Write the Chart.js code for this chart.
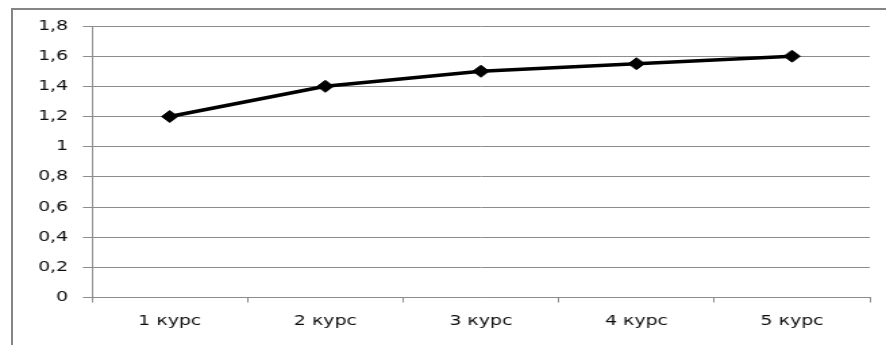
<!DOCTYPE html>
<html>
<head>
<meta charset="utf-8">
<script src="https://cdn.jsdelivr.net/npm/chart.js@4/dist/chart.umd.min.js"></script>
<style>
  html, body { margin: 0; padding: 0; background: #fff; overflow: hidden; }
  body { width: 886px; height: 345px; position: relative; }
  #frame {
    position: absolute; left: 11px; top: 8px; width: 920px; height: 400px;
    border: 2px solid #858585; box-sizing: border-box; pointer-events: none;
  }
  #wrap {
    position: absolute; left: 0; top: 0; width: 656px; height: 345px;
    transform-origin: 0 0; transform: scaleX(1.3506);
  }
  canvas { display: block; }
</style>
</head>
<body>
<div id="wrap"><canvas id="c" width="656" height="345"></canvas></div>
<div id="frame"></div>
<script>
// Course labels and the plotted values
const categories = ['1 курс', '2 курс', '3 курс', '4 курс', '5 курс'];
const values = [1.2, 1.4, 1.5, 1.55, 1.6];
// Value axis range and step
const yMin = 0;
const yMax = 1.8;
const yStep = 0.2;

const gridGrey = '#8c8c8c';
const textColor = '#0d0d0d';
const fontFamily = '"DejaVu Sans", Verdana, sans-serif';

const fmt = v => String(Math.round(v * 10) / 10).replace('.', ',');

new Chart(document.getElementById('c'), {
  type: 'line',
  data: {
    labels: categories,
    datasets: [{
      data: values,
      borderColor: '#000',
      borderWidth: 3.5,
      backgroundColor: '#000',
      pointStyle: 'rectRot',
      pointRadius: 6,
      pointBorderWidth: 1,
      pointBorderColor: '#000',
      pointBackgroundColor: '#000',
      tension: 0,
      fill: false
    }]
  },
  options: {
    responsive: false,
    animation: false,
    devicePixelRatio: 1,
    layout: { padding: { top: 26, right: 12, bottom: 0, left: 0 } },
    plugins: { legend: { display: false }, tooltip: { enabled: false } },
    scales: {
      x: {
        type: 'category',
        offset: true,
        grid: {
          offset: true,
          drawOnChartArea: false,
          drawTicks: true,
          tickLength: 5,
          color: gridGrey,
          lineWidth: 1
        },
        border: { display: true, color: gridGrey, width: 1 },
        ticks: {
          color: textColor,
          padding: 10,
          maxRotation: 0,
          font: { family: fontFamily, size: 14 }
        },
        afterFit: s => { s.height = 47.5; }
      },
      y: {
        min: yMin,
        max: yMax,
        grid: {
          color: gridGrey,
          lineWidth: 1,
          drawTicks: true,
          tickLength: 6.7
        },
        border: { display: true, color: gridGrey, width: 1 },
        ticks: {
          stepSize: yStep,
          color: textColor,
          padding: 11,
          font: { family: fontFamily, size: 14 },
          callback: v => fmt(v)
        },
        afterFit: s => { s.width = 68.1; }
      }
    }
  }
});
</script>
</body>
</html>
